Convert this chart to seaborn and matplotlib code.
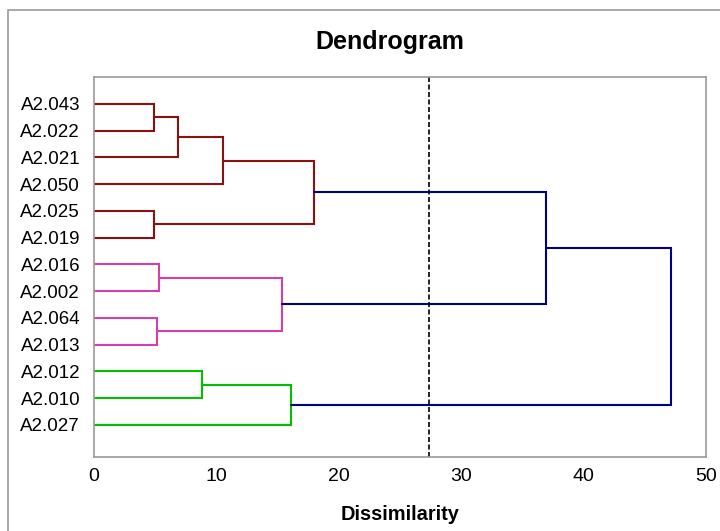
import numpy as np
import matplotlib
matplotlib.use("Agg")
import matplotlib.pyplot as plt
import seaborn as sns
from matplotlib.patches import Rectangle

sns.set_theme(style="white")
plt.rcParams['font.family'] = ['Liberation Sans', 'DejaVu Sans']
plt.rcParams['text.color'] = 'black'
plt.rcParams['xtick.color'] = 'black'
plt.rcParams['ytick.color'] = 'black'
plt.rcParams['axes.labelcolor'] = 'black'

# Leaves (top to bottom)
leaves = ["A2.043", "A2.022", "A2.021", "A2.050", "A2.025", "A2.019",
          "A2.016", "A2.002", "A2.064", "A2.013", "A2.012", "A2.010", "A2.027"]

# Merges: children ids (leaves 0..12, clusters 13..), dissimilarity, group
merge_left = [0, 13, 14, 4, 15, 6, 8, 18, 10, 21, 17, 23]
merge_right = [1, 2, 3, 5, 16, 7, 9, 19, 11, 12, 20, 22]
merge_height = [4.9, 6.9, 10.5, 4.9, 18.0, 5.3, 5.15, 15.4, 8.8, 16.1, 36.9, 47.1]
merge_group = ["c1", "c1", "c1", "c1", "c1", "c2", "c2", "c2", "c3", "c3", "top", "top"]

cut_level = 27.4

group_colors = {"c1": "#8B1010", "c2": "#D43FA8", "c3": "#00C000", "top": "#00008B"}

fig = plt.figure(figsize=(7.2, 5.31), dpi=100)
ax = fig.add_axes([94 / 720, 1 - 457 / 531, 612 / 720, 380 / 531])

# node positions
n = len(leaves)
ypos = {i: i + 1.0 for i in range(n)}
xpos = {i: 0.0 for i in range(n)}
for k, (a, b, h, g) in enumerate(zip(merge_left, merge_right, merge_height, merge_group)):
    node = n + k
    c = group_colors[g]
    ax.plot([xpos[a], h, h, xpos[b]], [ypos[a], ypos[a], ypos[b], ypos[b]],
            color=c, lw=1.5, solid_joinstyle="miter")
    ypos[node] = (ypos[a] + ypos[b]) / 2
    xpos[node] = h

ax.axvline(cut_level, color="black", ls=(0, (3, 1.5)), lw=1.2)

ax.set_xlim(0, 50)
ax.set_yticks([i + 1.0 for i in range(n)])
ax.set_yticklabels(leaves, fontsize=13.5)
ax.set_ylim(14.2, 0)
ax.set_xticks(np.arange(0, 51, 10))
ax.tick_params(axis="x", direction="in", length=5, color="#999999", labelsize=14, pad=8)
ax.tick_params(axis="y", length=0, pad=10)
for s in ax.spines.values():
    s.set_color("#999999")
    s.set_linewidth(1.2)

ax.set_xlabel("Dissimilarity", fontsize=14.4, fontweight="bold", labelpad=14)
fig.text(390 / 720, 1 - 42 / 531, "Dendrogram", ha="center", va="center",
         fontsize=18, fontweight="bold")

fig.patches.append(Rectangle((8 / 720, -0.05), 1.0, 1 - 10 / 531 + 0.05,
                             transform=fig.transFigure, fill=False,
                             edgecolor="#999999", lw=1.2))

fig.savefig("out.png", dpi=100)
